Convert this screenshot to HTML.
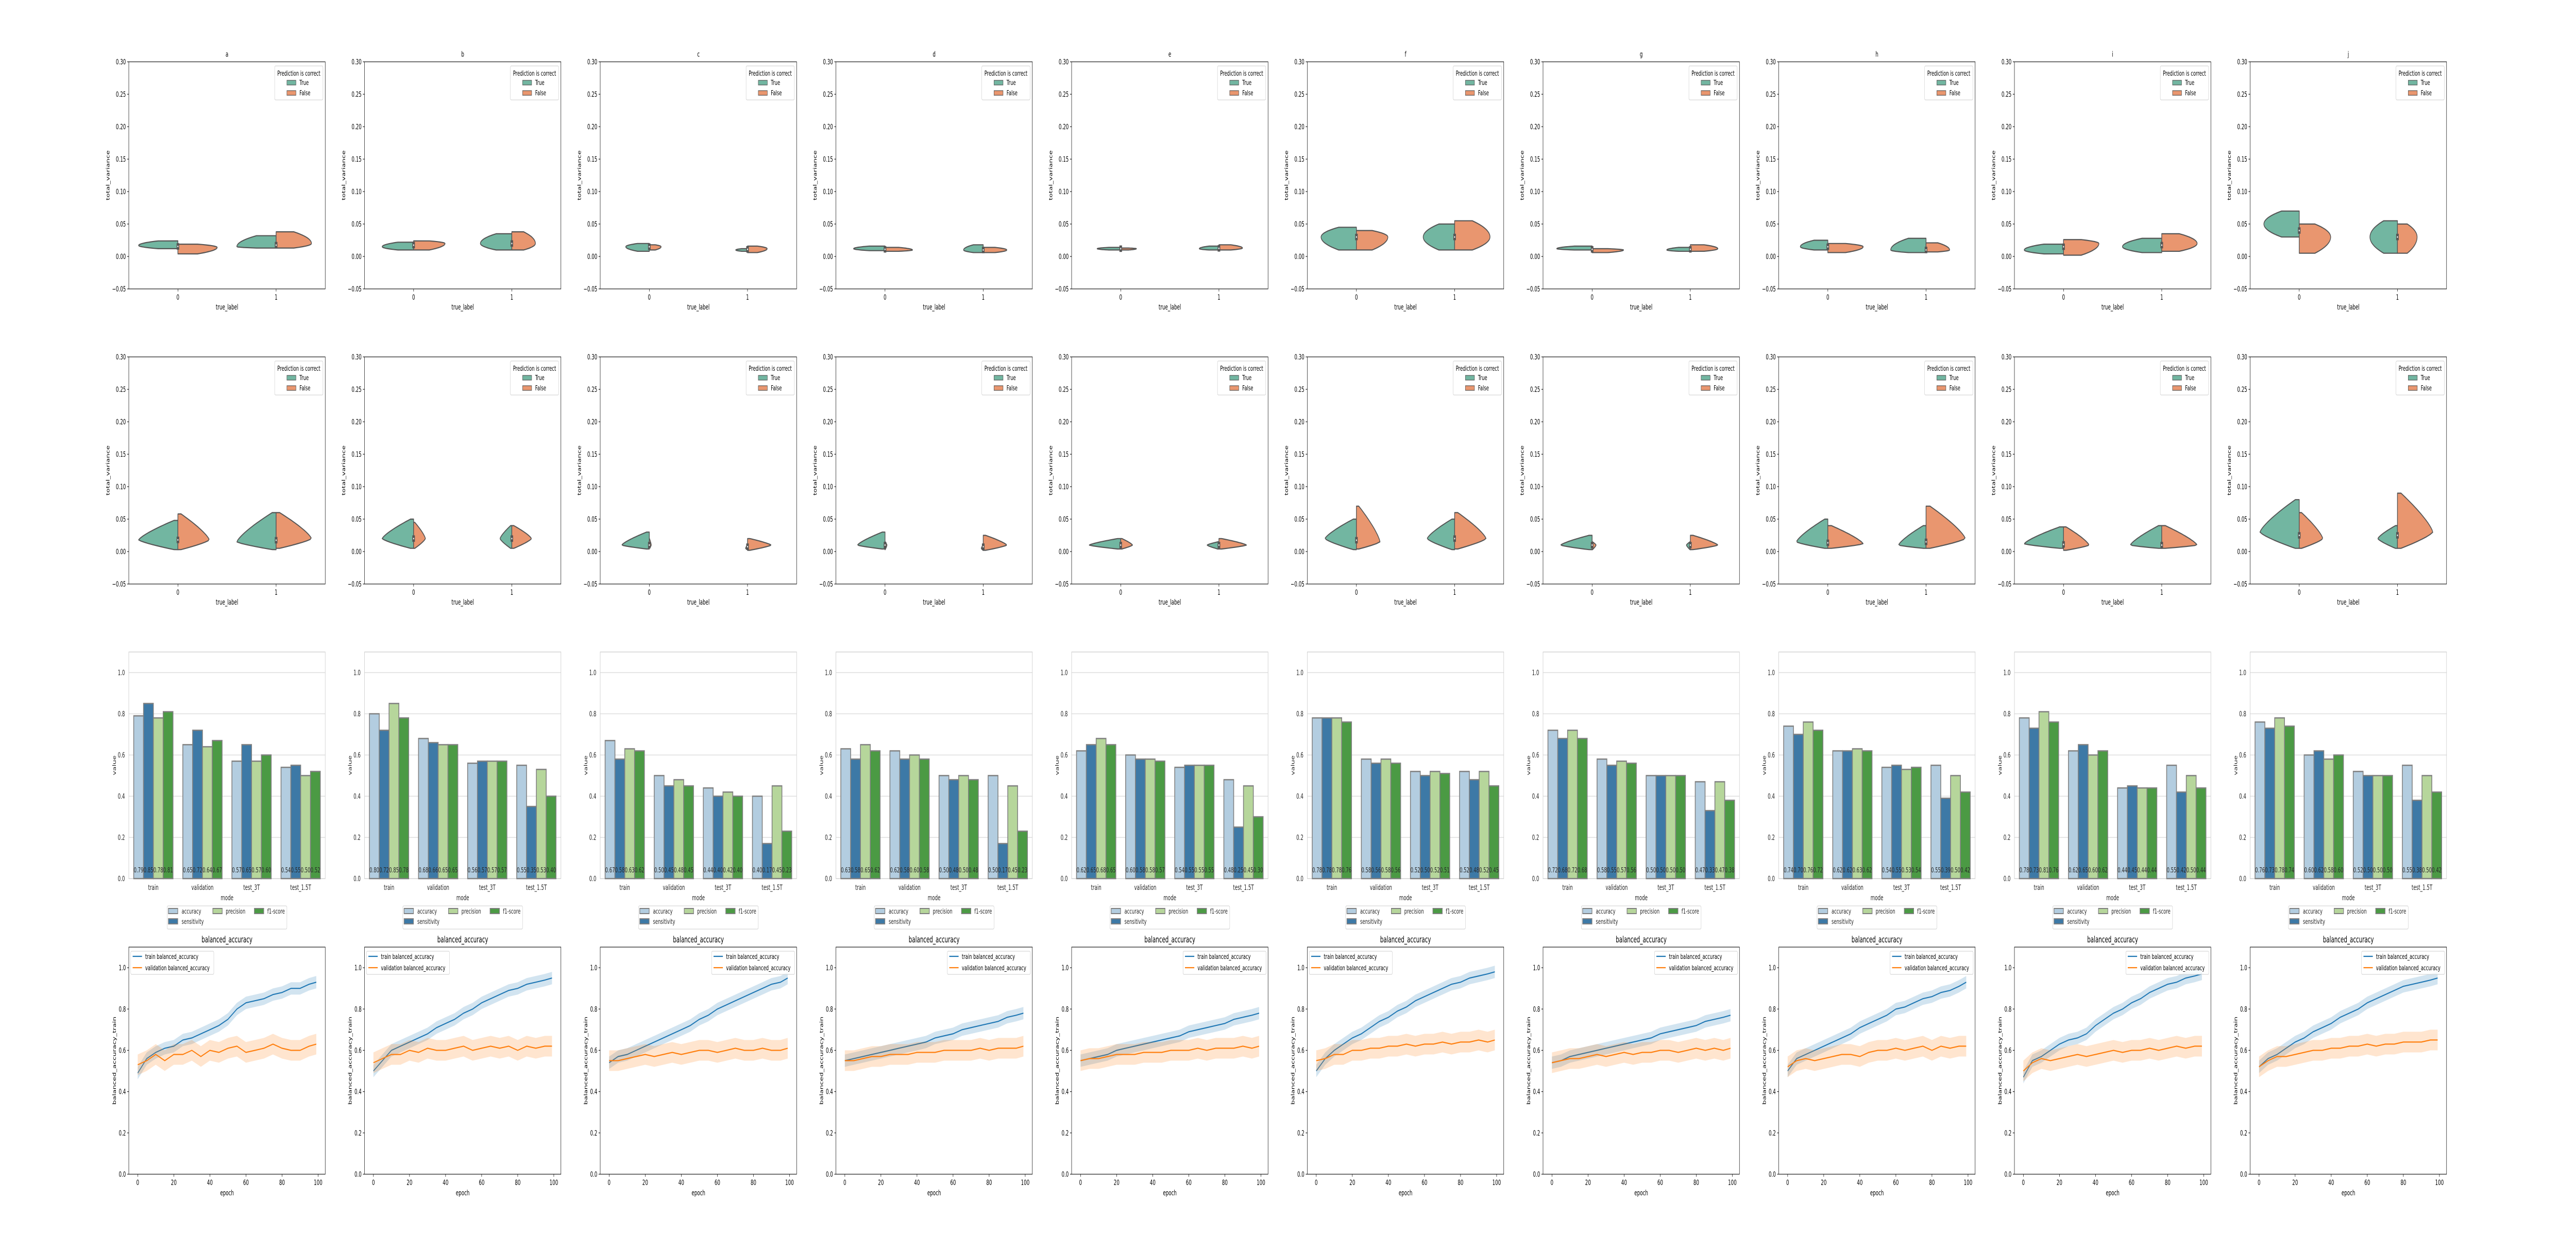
<!DOCTYPE html>
<html><head><meta charset="utf-8"><title>Model evaluation grid</title>
<style>
html,body{margin:0;padding:0;background:#fff;overflow:hidden;width:100%;height:100%;}
svg{display:block;width:100vw;height:100vh;font-family:"DejaVu Sans","Liberation Sans",sans-serif;}
</style></head>
<body>
<svg id="fig" xmlns="http://www.w3.org/2000/svg" viewBox="0 0 8000 2400" preserveAspectRatio="none"></svg>
<script>
// ---------------- DATA ----------------
const panelTitles = ['a','b','c','d','e','f','g','h','i','j'];
// violin half params per panel: [cat0True, cat0False, cat1True, cat1False], each [lo, hi, peak, widthFrac]
const violinRow1 = [
 [[.012,.024,.017,1.0],[.004,.019,.014,1.0],[.013,.032,.015,1.0],[.013,.038,.02,.9]],
 [[.010,.022,.015,.8],[.010,.024,.020,.8],[.010,.035,.020,.8],[.010,.038,.020,.6]],
 [[.008,.020,.015,.6],[.010,.018,.015,.3],[.008,.012,.010,.3],[.006,.016,.012,.5]],
 [[.009,.016,.012,.8],[.008,.014,.010,.7],[.006,.018,.010,.5],[.006,.014,.010,.6]],
 [[.010,.014,.012,.6],[.010,.013,.012,.4],[.010,.016,.012,.5],[.010,.018,.013,.6]],
 [[.010,.045,.030,.9],[.010,.040,.030,.8],[.010,.050,.030,.8],[.010,.055,.030,.9]],
 [[.010,.016,.012,.9],[.006,.012,.010,.8],[.008,.014,.010,.6],[.008,.018,.012,.7]],
 [[.010,.025,.015,.7],[.006,.020,.015,.9],[.006,.028,.010,.9],[.007,.021,.010,.6]],
 [[.004,.019,.010,1.0],[.002,.026,.020,.9],[.006,.028,.015,1.0],[.008,.035,.020,.9]],
 [[.030,.070,.050,.9],[.005,.050,.030,.8],[.005,.055,.030,.7],[.005,.050,.030,.5]]
];
const violinRow2 = [
 [[.003,.048,.018,1.0],[.003,.058,.018,.8],[.003,.060,.015,1.0],[.005,.060,.020,.9]],
 [[.005,.050,.020,.8],[.005,.045,.020,.3],[.005,.040,.020,.3],[.005,.040,.020,.5]],
 [[.004,.030,.010,.7],[.005,.020,.010,.05],[.003,.010,.005,.05],[.002,.020,.010,.6]],
 [[.004,.030,.010,.7],[.003,.015,.010,.05],[.002,.010,.005,.05],[.002,.025,.010,.6]],
 [[.004,.020,.010,.8],[.004,.020,.010,.3],[.004,.015,.010,.3],[.004,.020,.010,.7]],
 [[.003,.050,.020,.8],[.004,.070,.015,.6],[.003,.050,.020,.7],[.004,.060,.020,.8]],
 [[.003,.025,.010,.8],[.003,.015,.010,.1],[.003,.015,.010,.1],[.003,.025,.010,.7]],
 [[.005,.050,.015,.8],[.005,.040,.012,.9],[.005,.040,.010,.7],[.005,.070,.020,1.0]],
 [[.005,.038,.012,1.0],[.002,.038,.010,.65],[.005,.040,.010,.8],[.005,.040,.010,.9]],
 [[.005,.080,.030,1.0],[.005,.060,.020,.6],[.005,.040,.020,.5],[.005,.090,.030,.9]]
];
const groups = ['train','validation','test_3T','test_1.5T'];
const metrics = ['accuracy','sensitivity','precision','f1-score'];
// bar values per panel: [group][metric]
const barValues = [
 [[.79,.85,.78,.81],[.65,.72,.64,.67],[.57,.65,.57,.60],[.54,.55,.50,.52]],
 [[.80,.72,.85,.78],[.68,.66,.65,.65],[.56,.57,.57,.57],[.55,.35,.53,.40]],
 [[.67,.58,.63,.62],[.50,.45,.48,.45],[.44,.40,.42,.40],[.40,.17,.45,.23]],
 [[.63,.58,.65,.62],[.62,.58,.60,.58],[.50,.48,.50,.48],[.50,.17,.45,.23]],
 [[.62,.65,.68,.65],[.60,.58,.58,.57],[.54,.55,.55,.55],[.48,.25,.45,.30]],
 [[.78,.78,.78,.76],[.58,.56,.58,.56],[.52,.50,.52,.51],[.52,.48,.52,.45]],
 [[.72,.68,.72,.68],[.58,.55,.57,.56],[.50,.50,.50,.50],[.47,.33,.47,.38]],
 [[.74,.70,.76,.72],[.62,.62,.63,.62],[.54,.55,.53,.54],[.55,.39,.50,.42]],
 [[.78,.73,.81,.76],[.62,.65,.60,.62],[.44,.45,.44,.44],[.55,.42,.50,.44]],
 [[.76,.73,.78,.74],[.60,.62,.58,.60],[.52,.50,.50,.50],[.55,.38,.50,.42]]
];
const epochs = [0,5,10,15,20,25,30,35,40,45,50,55,60,65,70,75,80,85,90,95,99];
const trainAcc = [
 [.49,.56,.59,.61,.62,.65,.66,.68,.70,.72,.75,.80,.83,.84,.85,.87,.88,.90,.90,.92,.93],
 [.50,.55,.60,.62,.64,.66,.68,.71,.73,.75,.78,.80,.83,.85,.87,.89,.90,.92,.93,.94,.95],
 [.54,.57,.58,.60,.62,.64,.66,.68,.70,.72,.75,.77,.80,.82,.84,.86,.88,.90,.92,.93,.95],
 [.55,.56,.57,.58,.59,.60,.61,.62,.63,.64,.66,.67,.68,.70,.71,.72,.73,.74,.76,.77,.78],
 [.55,.56,.57,.58,.60,.61,.62,.63,.64,.65,.66,.67,.69,.70,.71,.72,.73,.75,.76,.77,.78],
 [.50,.56,.60,.63,.66,.68,.71,.74,.76,.79,.81,.84,.86,.88,.90,.92,.93,.95,.96,.97,.98],
 [.54,.55,.57,.58,.59,.60,.61,.62,.63,.64,.65,.66,.68,.69,.70,.71,.72,.74,.75,.76,.77],
 [.50,.56,.58,.60,.62,.64,.66,.68,.71,.73,.75,.77,.80,.81,.83,.85,.86,.88,.89,.91,.93],
 [.47,.55,.57,.60,.63,.65,.66,.68,.72,.75,.78,.80,.83,.85,.88,.90,.92,.93,.95,.96,.97],
 [.52,.56,.58,.61,.64,.66,.69,.71,.73,.76,.78,.80,.83,.85,.87,.89,.91,.92,.93,.94,.95]
];
const valAcc = [
 [.53,.55,.58,.55,.58,.58,.60,.57,.60,.59,.61,.62,.59,.60,.61,.63,.61,.60,.60,.62,.63],
 [.54,.56,.58,.58,.60,.59,.61,.60,.60,.61,.62,.60,.61,.62,.61,.62,.60,.62,.61,.62,.62],
 [.55,.55,.56,.57,.58,.57,.58,.59,.58,.59,.60,.60,.59,.60,.61,.60,.60,.61,.60,.60,.61],
 [.55,.55,.56,.57,.57,.58,.58,.58,.59,.59,.59,.60,.60,.60,.60,.61,.60,.61,.61,.61,.62],
 [.55,.56,.56,.57,.58,.58,.58,.59,.59,.59,.60,.60,.60,.61,.60,.61,.61,.61,.62,.61,.62],
 [.55,.56,.58,.58,.60,.60,.61,.61,.62,.62,.63,.62,.63,.63,.64,.63,.64,.64,.65,.64,.65],
 [.54,.55,.56,.56,.57,.58,.57,.58,.59,.58,.59,.59,.60,.60,.59,.60,.61,.60,.61,.60,.61],
 [.52,.55,.56,.55,.56,.57,.58,.58,.57,.59,.60,.60,.61,.60,.61,.62,.60,.62,.61,.62,.62],
 [.50,.54,.56,.55,.56,.57,.58,.57,.58,.59,.60,.59,.60,.60,.61,.60,.61,.62,.61,.62,.62],
 [.52,.55,.57,.57,.58,.59,.60,.60,.61,.61,.62,.62,.63,.62,.63,.63,.64,.64,.64,.65,.65]
];
const trainBand = [.03,.03,.03,.03,.03,.03,.03,.03,.03,.03];
const valBand = [.05,.05,.05,.05,.05,.05,.05,.05,.05,.05];
const legendRight = [false,false,true,true,true,false,true,true,true,true];
const violinTicks = ['\u22120.05','0.00','0.05','0.10','0.15','0.20','0.25','0.30'];
const unitTicks = ['0.0','0.2','0.4','0.6','0.8','1.0'];
const epochTicks = ['0','20','40','60','80','100'];

// ---------------- LAYOUT ----------------
const NS='http://www.w3.org/2000/svg';
const svg=document.getElementById('fig');
const AW=610;
const colLeft=i=>400+732*i;
const ROWS=[[120,561],[693,1134],[1266,1706],[1839,2280]];
function mk(tag,attrs,name,parent,txt){
  const e=document.createElementNS(NS,tag);
  for(const k in attrs) e.setAttribute(k,attrs[k]);
  
  
  if(txt!==undefined) e.textContent=txt;
  (parent||svg).appendChild(e);
  return e;
}
const VC={T:'#72b6a1',F:'#e9966f'};
const BC=['#b3cde0','#3d79a6','#b6d69b','#4b9a44'];

function violinPanel(p,row,data){
  const L=colLeft(p),R=L+AW,[T,B]=ROWS[row];
  const g=mk('g',{},'violin-panel-'+panelTitles[p]+'-row'+(row+1));
  const y=v=>B-(v+0.05)/0.35*(B-T);
  violinTicks.forEach((t,k)=>{const v=-0.05+0.05*k,yy=y(v);
    mk('line',{x1:L-5,x2:L,y1:yy,y2:yy,stroke:'#000','stroke-width':1.1},'y-tick',g);
    mk('text',{x:L-9,y:yy+5,'font-size':14,'text-anchor':'end'},'y-tick-label',g,t);});
  ['0','1'].forEach((t,c)=>{const cx=L+AW*(0.25+0.5*c);
    mk('line',{x1:cx,x2:cx,y1:B,y2:B+5,stroke:'#000','stroke-width':1.1},'x-tick',g);
    mk('text',{x:cx,y:B+21,'font-size':14,'text-anchor':'middle'},'x-tick-label',g,t);});
  mk('text',{x:L+AW/2,y:B+40,'font-size':14,'text-anchor':'middle'},'x-axis-title',g,'true_label');
  mk('text',{x:0,y:0,'font-size':14,'text-anchor':'middle',textLength:97,lengthAdjust:'spacingAndGlyphs',transform:`translate(${L-60},${(T+B)/2}) rotate(-90)`},'y-axis-title',g,'total_variance');
  if(row===0) mk('text',{x:L+AW/2,y:T-10,'font-size':14,'text-anchor':'middle'},'panel-title',g,panelTitles[p]);
  const endF=row===0?0.5:0.1, pw=row===0?2:1.3;
  [0,1].forEach(c=>{
    const cx=L+AW*(0.25+0.5*c);
    [0,1].forEach(h=>{
      const [lo,hi,pk,wf]=data[c*2+h]; const side=h===0?-1:1;
      let d=`M${cx},${y(lo)}`;
      for(let s=0;s<=24;s++){const v=lo+(hi-lo)*s/24;
        const u=v<pk?(pk-v)/Math.max(pk-lo,1e-6):(v-pk)/Math.max(hi-pk,1e-6);
        const w=wf*122*(1-(1-endF)*Math.pow(Math.min(u,1),pw));
        d+=` L${(cx+side*w).toFixed(1)},${y(v).toFixed(1)}`;}
      d+=` L${cx},${y(hi)} Z`;
      mk('path',{d,fill:h===0?VC.T:VC.F,stroke:'#555','stroke-width':2.2,'stroke-linejoin':'round'},'violin-'+(h===0?'true':'false')+'-label'+c,g);
    });
    const mid=(data[c*2][2]+data[c*2+1][2])/2;
    mk('rect',{x:cx-4,y:y(mid+0.005),width:8,height:y(mid-0.005)-y(mid+0.005),fill:'#555'},'violin-box',g);
    mk('circle',{cx:cx,cy:y(mid),r:1.6,fill:'#fff'},'violin-median',g);
  });
  mk('rect',{x:L,y:T,width:AW,height:B-T,fill:'none',stroke:'#000','stroke-width':1.1},'plot-frame',g);
  const lg=mk('g',{},'violin-legend',g);
  mk('rect',{x:R-157,y:T+8,width:150,height:66,rx:3,fill:'#fff','fill-opacity':.8,stroke:'#ccc','stroke-width':1},'legend-box',lg);
  mk('text',{x:R-82,y:T+27,'font-size':13.5,'text-anchor':'middle'},'legend-title',lg,'Prediction is correct');
  mk('rect',{x:R-119,y:T+36,width:28,height:9,fill:VC.T,stroke:'#555','stroke-width':1.2},'legend-swatch-true',lg);
  mk('text',{x:R-80,y:T+45,'font-size':13.5},'legend-label-true',lg,'True');
  mk('rect',{x:R-119,y:T+56,width:28,height:9,fill:VC.F,stroke:'#555','stroke-width':1.2},'legend-swatch-false',lg);
  mk('text',{x:R-80,y:T+65,'font-size':13.5},'legend-label-false',lg,'False');
}

function barPanel(p){
  const L=colLeft(p),[T,B]=ROWS[2];
  const g=mk('g',{},'bar-panel-'+panelTitles[p]);
  const y=v=>B-v/1.1*(B-T);
  unitTicks.forEach((t,k)=>{const v=0.2*k,yy=y(v);
    mk('line',{x1:L,x2:L+AW,y1:yy,y2:yy,stroke:'#cccccc','stroke-width':1.1},'grid-line',g);
    mk('text',{x:L-12,y:yy+5,'font-size':14,'text-anchor':'end',fill:'#262626'},'y-tick-label',g,t);});
  mk('rect',{x:L,y:T,width:AW,height:B-T,fill:'none',stroke:'#cccccc','stroke-width':1.3},'plot-frame',g);
  const gw=AW/4;
  groups.forEach((gn,gi)=>{
    const gx=L+gw*gi;
    mk('text',{x:gx+gw/2,y:B+22,'font-size':14,'text-anchor':'middle',fill:'#262626'},'x-tick-label',g,gn);
    metrics.forEach((m,mi)=>{
      const v=barValues[p][gi][mi]; const bw=gw*0.8/4; const bx=gx+gw*0.1+bw*mi;
      mk('rect',{x:bx,y:y(v),width:bw,height:B-y(v),fill:BC[mi],stroke:'#808080','stroke-width':2.5},'bar-'+gn+'-'+m,g);
      mk('text',{x:bx+bw/2,y:B-12,'font-size':13.5,'text-anchor':'middle',fill:'#262626'},'bar-value-label',g,v.toFixed(2));
    });
  });
  mk('text',{x:L+AW/2,y:B+42,'font-size':14,'text-anchor':'middle',fill:'#262626'},'x-axis-title',g,'mode');
  mk('text',{x:0,y:0,'font-size':14,'text-anchor':'middle',fill:'#262626',transform:`translate(${L-40},${(T+B)/2}) rotate(-90)`},'y-axis-title',g,'value');
  const lg=mk('g',{},'bar-legend',g);
  mk('rect',{x:L+119,y:1759,width:372,height:45,rx:3,fill:'#fff',stroke:'#cccccc','stroke-width':1},'legend-box',lg);
  const pos=[[123,164,1769],[123,164,1789],[261,301,1769],[390,430,1769]];
  metrics.forEach((m,mi)=>{const [px,tx,cy]=pos[mi];
    mk('rect',{x:L+px,y:cy-5,width:29,height:10,fill:BC[mi],stroke:'#808080','stroke-width':2},'legend-swatch-'+m,lg);
    mk('text',{x:L+tx,y:cy+5,'font-size':13.5,fill:'#262626'},'legend-label-'+m,lg,m);});
}

function linePanel(p){
  const L=colLeft(p),R=L+AW,[T,B]=ROWS[3];
  const g=mk('g',{},'line-panel-'+panelTitles[p]);
  const x=e=>L+(e+4.95)/108.9*AW, y=v=>B-v/1.1*(B-T);
  unitTicks.forEach((t,k)=>{const yy=y(0.2*k);
    mk('line',{x1:L-5,x2:L,y1:yy,y2:yy,stroke:'#000','stroke-width':1.1},'y-tick',g);
    mk('text',{x:L-9,y:yy+5,'font-size':14,'text-anchor':'end'},'y-tick-label',g,t);});
  epochTicks.forEach(t=>{const xx=x(+t);
    mk('line',{x1:xx,x2:xx,y1:B,y2:B+5,stroke:'#000','stroke-width':1.1},'x-tick',g);
    mk('text',{x:xx,y:B+21,'font-size':14,'text-anchor':'middle'},'x-tick-label',g,t);});
  const series=[[trainAcc[p],trainBand[p],'#1f77b4','train'],[valAcc[p],valBand[p],'#ff7f0e','validation']];
  series.forEach(([vals,bw,col,nm])=>{
    let up='',dn='';
    epochs.forEach((e,k)=>{up+=(k?' L':'M')+x(e).toFixed(1)+','+y(vals[k]+bw).toFixed(1);});
    for(let k=epochs.length-1;k>=0;k--) dn+=' L'+x(epochs[k]).toFixed(1)+','+y(vals[k]-bw).toFixed(1);
    mk('path',{d:up+dn+' Z',fill:col,'fill-opacity':.2,stroke:'none'},nm+'-band',g);
    mk('polyline',{points:epochs.map((e,k)=>x(e).toFixed(1)+','+y(vals[k]).toFixed(1)).join(' '),fill:'none',stroke:col,'stroke-width':2.2},nm+'-line',g);
  });
  mk('rect',{x:L,y:T,width:AW,height:B-T,fill:'none',stroke:'#000','stroke-width':1.1},'plot-frame',g);
  mk('text',{x:L+AW/2,y:T-9,'font-size':16.5,'text-anchor':'middle'},'panel-title',g,'balanced_accuracy');
  mk('text',{x:L+AW/2,y:B+41,'font-size':14,'text-anchor':'middle'},'x-axis-title',g,'epoch');
  mk('text',{x:0,y:0,'font-size':14,'text-anchor':'middle',textLength:171,lengthAdjust:'spacingAndGlyphs',transform:`translate(${L-40},${(T+B)/2}) rotate(-90)`},'y-axis-title',g,'balanced_accuracy_train');
  const lx=legendRight[p]?R-264:L+6;
  const lg=mk('g',{},'line-legend',g);
  mk('rect',{x:lx,y:T+8,width:258,height:45,rx:3,fill:'#fff','fill-opacity':.8,stroke:'#ccc','stroke-width':1},'legend-box',lg);
  mk('line',{x1:lx+6,x2:lx+35,y1:T+18,y2:T+18,stroke:'#1f77b4','stroke-width':2.2},'legend-line-train',lg);
  mk('text',{x:lx+45,y:T+23,'font-size':13.5},'legend-label-train',lg,'train balanced_accuracy');
  mk('line',{x1:lx+6,x2:lx+35,y1:T+40,y2:T+40,stroke:'#ff7f0e','stroke-width':2.2},'legend-line-validation',lg);
  mk('text',{x:lx+45,y:T+45,'font-size':13.5},'legend-label-validation',lg,'validation balanced_accuracy');
}

for(let p=0;p<10;p++){
  violinPanel(p,0,violinRow1[p]);
  violinPanel(p,1,violinRow2[p]);
  barPanel(p);
  linePanel(p);
}
</script>
</body></html>
